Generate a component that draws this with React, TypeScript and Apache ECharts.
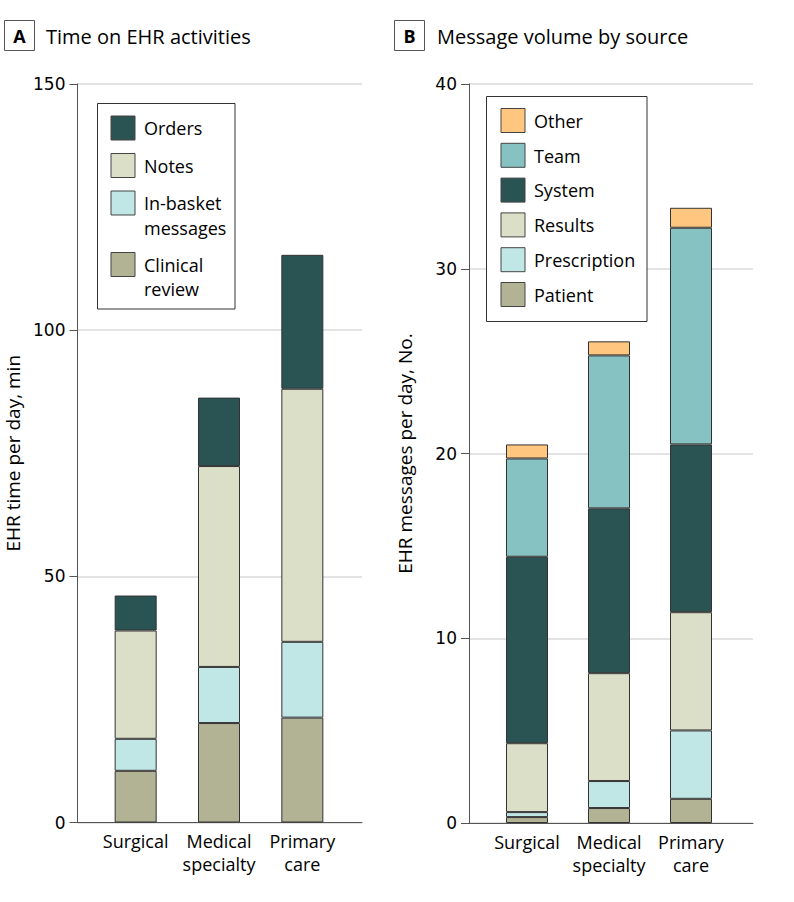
import React, { useEffect, useRef } from "react";
import * as echarts from "echarts";

// ---------- data ----------
const categories = ["Surgical", "Medical\nspecialty", "Primary\ncare"];

// Panel A: Time on EHR activities (min per day), bottom to top
const seriesNamesA = ["Clinical review", "In-basket messages", "Notes", "Orders"];
const clinicalReview = [10.5, 20.2, 21.3];
const inBasket = [6.5, 11.4, 15.4];
const notes = [22.0, 40.8, 51.4];
const orders = [7.1, 13.9, 27.2];
const yTicksA = { min: 0, max: 150, interval: 50 };

// Panel B: Message volume by source (messages per day), bottom to top
const seriesNamesB = ["Patient", "Prescription", "Results", "System", "Team", "Other"];
const patient = [0.32, 0.81, 1.31];
const prescription = [0.27, 1.46, 3.7];
const results = [3.73, 5.84, 6.4];
const system = [10.09, 8.92, 9.08];
const team = [5.32, 8.28, 11.73];
const other = [0.76, 0.76, 1.08];
const yTicksB = { min: 0, max: 40, interval: 10 };

// legend labels (top to bottom)
const legendLabelsA = ["Orders", "Notes", "In-basket\nmessages", "Clinical\nreview"];
const legendLabelsB = ["Other", "Team", "System", "Results", "Prescription", "Patient"];

// ---------- styles ----------
const C_DARK = "#2a5353";
const C_BEIGE = "#dcdfc8";
const C_LIGHTCYAN = "#c0e6e5";
const C_OLIVE = "#b2b394";
const C_TEAM = "#86c2c1";
const C_OTHER = "#fec67f";

const colorsA = [C_OLIVE, C_LIGHTCYAN, C_BEIGE, C_DARK];
const colorsB = [C_OLIVE, C_LIGHTCYAN, C_BEIGE, C_DARK, C_TEAM, C_OTHER];

const FONT = '"Open Sans", sans-serif';
const TICK_FONT = '"DejaVu Sans", sans-serif';
const TEXT = "#000";

export default function App() {
  const ref = useRef<HTMLDivElement>(null);

  useEffect(() => {
    document.body.style.margin = "0";
    if (!ref.current) return;
    const chart = echarts.init(ref.current, undefined, { renderer: "svg" });

    const dataA = [clinicalReview, inBasket, notes, orders];
    const dataB = [patient, prescription, results, system, team, other];

    const frameX = (gridIndex: number) => ({
      gridIndex,
      type: "value",
      min: 0,
      max: 1,
      axisLine: { show: true, onZero: false, lineStyle: { color: "#555", width: 1 } },
      axisTick: { show: false },
      axisLabel: { show: false },
      splitLine: { show: false },
    });
    const catX = (gridIndex: number) => ({
      gridIndex,
      type: "category",
      data: categories,
      axisLine: { show: false },
      axisTick: { show: false },
      axisLabel: {
        interval: 0,
        fontFamily: FONT,
        fontSize: 18,
        lineHeight: 23,
        color: TEXT,
        margin: 7,
      },
    });
    const frameY = (gridIndex: number, t: any, name: string) => ({
      gridIndex,
      type: "value",
      min: t.min,
      max: t.max,
      interval: t.interval,
      name,
      nameLocation: "middle",
      nameGap: 55,
      nameTextStyle: { fontFamily: FONT, fontSize: 19, color: TEXT },
      axisLine: { show: true, onZero: false, lineStyle: { color: "#555", width: 1 } },
      axisTick: { show: true, inside: false, length: 8, lineStyle: { color: "#555" } },
      axisLabel: { fontFamily: TICK_FONT, fontSize: 17, color: TEXT, margin: 12 },
      splitLine: { show: true, lineStyle: { color: "#dadada", width: 1.5 } },
    });
    const hiddenY = (gridIndex: number, t: any) => ({
      gridIndex,
      type: "value",
      min: t.min,
      max: t.max,
      show: false,
      splitLine: { show: false },
    });

    const series: any[] = [];
    seriesNamesA.forEach((n, i) =>
      series.push({
        name: n,
        type: "bar",
        xAxisIndex: 1,
        yAxisIndex: 1,
        stack: "A",
        barWidth: 42,
        data: dataA[i],
        itemStyle: { color: colorsA[i], borderColor: "#333", borderWidth: 1 },
      })
    );
    seriesNamesB.forEach((n, i) =>
      series.push({
        name: n,
        type: "bar",
        xAxisIndex: 3,
        yAxisIndex: 3,
        stack: "B",
        barWidth: 42,
        data: dataB[i],
        itemStyle: { color: colorsB[i], borderColor: "#333", borderWidth: 1 },
      })
    );

    // legend graphics
    const legendGraphic = (
      labels: string[],
      colors: string[],
      box: { x: number; y: number; w: number; h: number },
      swX: number,
      firstY: number,
      gap: number
    ) => {
      const els: any[] = [
        {
          type: "rect",
          z: 100,
          shape: { x: box.x, y: box.y, width: box.w, height: box.h },
          style: { fill: "#fff", stroke: "#333", lineWidth: 1 },
        },
      ];
      let y = firstY;
      labels.forEach((lab, i) => {
        const lines = lab.split("\n").length;
        els.push({
          type: "rect",
          z: 101,
          shape: { x: swX, y, width: 24, height: 24 },
          style: { fill: colors[i], stroke: "#444", lineWidth: 1 },
        });
        els.push({
          type: "text",
          z: 101,
          x: swX + 33,
          y: y,
          style: {
            text: lab,
            font: `18px ${FONT}`,
            fill: TEXT,
            verticalAlign: "top",
            lineHeight: 24.5,
          },
        });
        y += lines * 24 + gap;
      });
      return els;
    };

    const titleGraphic = (letter: string, title: string, bx: number, tx: number) => [
      {
        type: "rect",
        shape: { x: bx, y: 20.5, width: 30, height: 30 },
        style: { fill: "#fff", stroke: "#555", lineWidth: 1 },
      },
      {
        type: "text",
        x: bx + 15,
        y: 36,
        style: {
          text: letter,
          font: `bold 18px ${FONT}`,
          fill: TEXT,
          align: "center",
          verticalAlign: "middle",
        },
      },
      {
        type: "text",
        x: tx,
        y: 36,
        style: {
          text: title,
          font: `20px ${FONT}`,
          fill: TEXT,
          verticalAlign: "middle",
        },
      },
    ];

    const option: any = {
      animation: false,
      backgroundColor: "#fff",
      grid: [
        { left: 77.5, top: 84, width: 284.5, height: 738.5 },
        { left: 94, top: 84, width: 250, height: 738.5 },
        { left: 469, top: 84, width: 284, height: 739 },
        { left: 486, top: 84, width: 246, height: 739 },
      ],
      xAxis: [frameX(0), catX(1), frameX(2), catX(3)],
      yAxis: [
        frameY(0, yTicksA, "EHR time per day, min"),
        hiddenY(1, yTicksA),
        frameY(2, yTicksB, "EHR messages per day, No."),
        hiddenY(3, yTicksB),
      ],
      series,
      graphic: [
        ...titleGraphic("A", "Time on EHR activities", 4.5, 46),
        ...titleGraphic("B", "Message volume by source", 394.5, 437),
        ...legendGraphic(
          legendLabelsA,
          [C_DARK, C_BEIGE, C_LIGHTCYAN, C_OLIVE],
          { x: 97.5, y: 103.5, w: 137.5, h: 205.5 },
          111,
          116,
          13.5
        ),
        ...legendGraphic(
          legendLabelsB,
          [C_OTHER, C_TEAM, C_DARK, C_BEIGE, C_LIGHTCYAN, C_OLIVE],
          { x: 486.5, y: 96.5, w: 160.5, h: 225 },
          501,
          108.5,
          10.8
        ),
      ],
    };

    chart.setOption(option);
    return () => chart.dispose();
  }, []);

  return <div ref={ref} style={{ width: 794, height: 902 }} />;
}
